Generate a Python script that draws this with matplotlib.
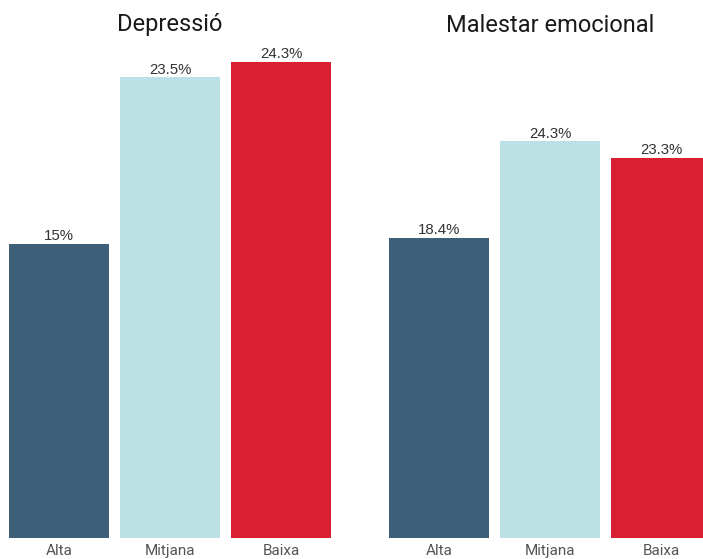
import matplotlib
matplotlib.use("Agg")
import matplotlib.pyplot as plt
import matplotlib.transforms as mtransforms

plt.rcParams["font.family"] = ["Roboto", "DejaVu Sans"]

categories = ["Alta", "Mitjana", "Baixa"]
panels = ["Depressió", "Malestar emocional"]
depressio = [15.0, 23.5, 24.3]
malestar = [18.4, 24.3, 23.3]
colors = ["#3e5f78", "#bde0e4", "#d92033"]

W, H = 703, 559
fig = plt.figure(figsize=(W / 100, H / 100), dpi=100)

# axes placed in pixel coords: (left, right) of each panel, shared bottom/top
bottom_px, top_px = 538, 40
panel_specs = [
    (0, 350, (-0.53, 2.62), 25.4, depressio),
    (380, 703, (-0.53, 2.378), 30.5, malestar),
]

for (x0, x1, xlim, ymax, values), title in zip(panel_specs, panels):
    ax = fig.add_axes([x0 / W, (H - bottom_px) / H, (x1 - x0) / W,
                       (bottom_px - top_px) / H])
    xs = range(len(categories))
    bars = ax.bar(xs, values, width=0.9, color=colors)
    for b, v in zip(bars, values):
        txt = f"{v:g}%"
        ax.annotate(txt, (b.get_x() + b.get_width() / 2, v),
                    xytext=(0, 0.5), textcoords="offset points",
                    ha="center", va="bottom", fontsize=10.8,
                    family=["Liberation Sans", "DejaVu Sans"], color="#333333")
    ax.set_xlim(*xlim)
    ax.set_ylim(0, ymax)
    ax.set_xticks(list(xs))
    ax.set_xticklabels(categories, fontsize=11, color="#555555")
    ax.tick_params(axis="x", length=0, pad=4.5)
    ax.set_yticks([])
    for s in ax.spines.values():
        s.set_visible(False)
    trans = mtransforms.blended_transform_factory(ax.transData, fig.transFigure)
    ax.text(1, 1 - 25 / H, title, transform=trans, ha="center", va="center",
            fontsize=17, color="#1a1a1a")

fig.savefig("out.png", dpi=100)
